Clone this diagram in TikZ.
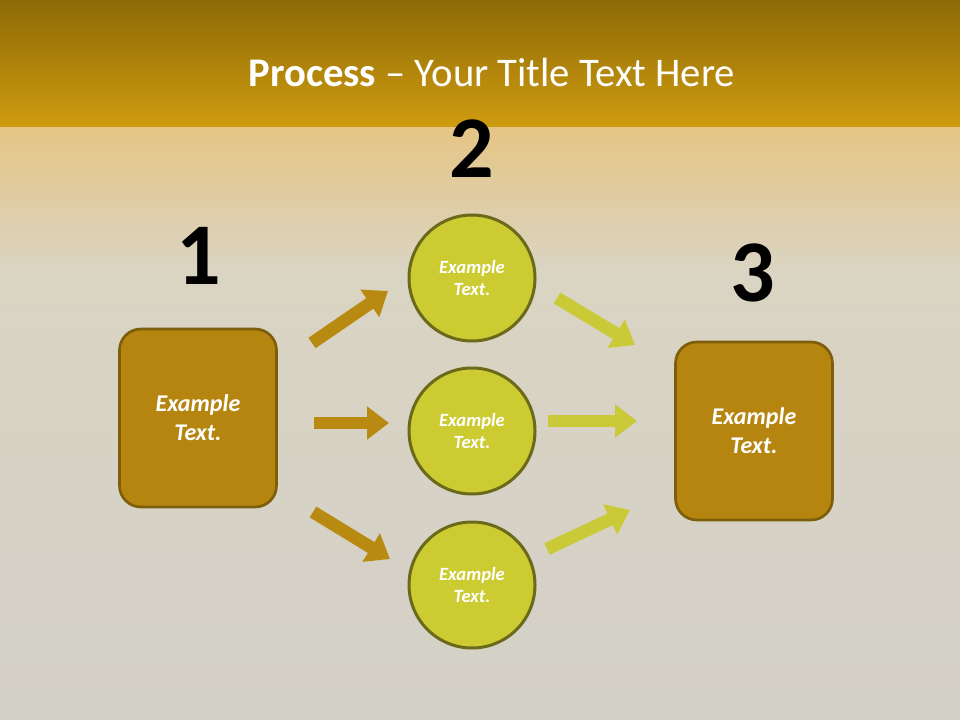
\documentclass[tikz,border=0pt]{standalone}
\usepackage{fontspec}
\setmainfont{Carlito}
\usetikzlibrary{arrows.meta, positioning}
\definecolor{bandtop}{HTML}{8E6A07}
\definecolor{bandbot}{HTML}{CF9C0F}
\definecolor{floortop}{HTML}{E5C585}
\definecolor{floormid}{HTML}{DAD4C2}
\definecolor{floorbot}{HTML}{D3D0C8}
\definecolor{boxfill}{HTML}{B5850F}
\definecolor{boxedge}{HTML}{7D5E0B}
\definecolor{circfill}{HTML}{CDCB32}
\definecolor{circedge}{HTML}{6B6A1A}
\definecolor{arrowgold}{HTML}{B98A12}
\definecolor{arrowlime}{HTML}{CACA38}
\tikzset{
  stepbox/.style={rectangle, rounded corners=16pt, draw=boxedge, line width=2pt,
                  fill=boxfill, minimum width=117.75pt, minimum height=133.5pt,
                  align=center, text=white,
                  font=\fontsize{18}{21.75}\selectfont\bfseries\itshape},
  stepcirc/.style={circle, draw=circedge, line width=2.25pt, fill=circfill,
                   minimum size=94.5pt, inner sep=0pt, align=center, text=white,
                   font=\fontsize{14}{17}\selectfont\bfseries\itshape},
  stepnum/.style={anchor=base, text=black, font=\fontsize{66}{66}\selectfont\bfseries},
  goldarrow/.style={-{Triangle[length=16.5pt,width=24pt]}, line width=9.5pt, draw=arrowgold},
  limearrow/.style={goldarrow, draw=arrowlime},
}
\begin{document}
\begin{tikzpicture}[x=0.75pt, y=-0.75pt]
    \useasboundingbox (0,0) rectangle (960,720);
    % Background
    \shade[top color=bandtop, bottom color=bandbot] (0,0) rectangle (960,128);
    \shade[top color=floortop, bottom color=floormid] (0,128) rectangle (960,270);
    \shade[top color=floormid, bottom color=floorbot] (0,270) rectangle (960,720);
    % Title
    \node[anchor=base, text=white, font=\fontsize{30.5}{30.5}\selectfont] (title) at (492,87)
      {\textbf{Process} -- Your Title Text Here};
    % Steps
    \node[stepbox] (box1) at (198,418) {Example\\Text.};
    \node[stepcirc] (c1) at (472,278) {Example\\Text.};
    \node[stepcirc] (c2) at (472,431) {Example\\Text.};
    \node[stepcirc] (c3) at (472,585) {Example\\Text.};
    \node[stepbox] (box3) at (754,431) {Example\\Text.};
    % Numbers
    \node[stepnum] (num1) at (199,285) {1};
    \node[stepnum] (num2) at (472,178) {2};
    \node[stepnum] (num3) at (753,301) {3};
    % Arrow ends
    \coordinate (l1s) at (312,343);
    \coordinate (l1e) at (388,291);
    \coordinate (l2s) at (314,423);
    \coordinate (l2e) at (389,423);
    \coordinate (l3s) at (313,512);
    \coordinate (l3e) at (390,559);
    \coordinate (r1s) at (557,298);
    \coordinate (r1e) at (635,345);
    \coordinate (r2s) at (548,421);
    \coordinate (r2e) at (637,421);
    \coordinate (r3s) at (547,549);
    \coordinate (r3e) at (630,510);
    % Arrows in
    \draw[goldarrow] (l1s) -- (l1e);
    \draw[goldarrow] (l2s) -- (l2e);
    \draw[goldarrow] (l3s) -- (l3e);
    % Arrows out
    \draw[limearrow] (r1s) -- (r1e);
    \draw[limearrow] (r2s) -- (r2e);
    \draw[limearrow] (r3s) -- (r3e);
\end{tikzpicture}
\end{document}
